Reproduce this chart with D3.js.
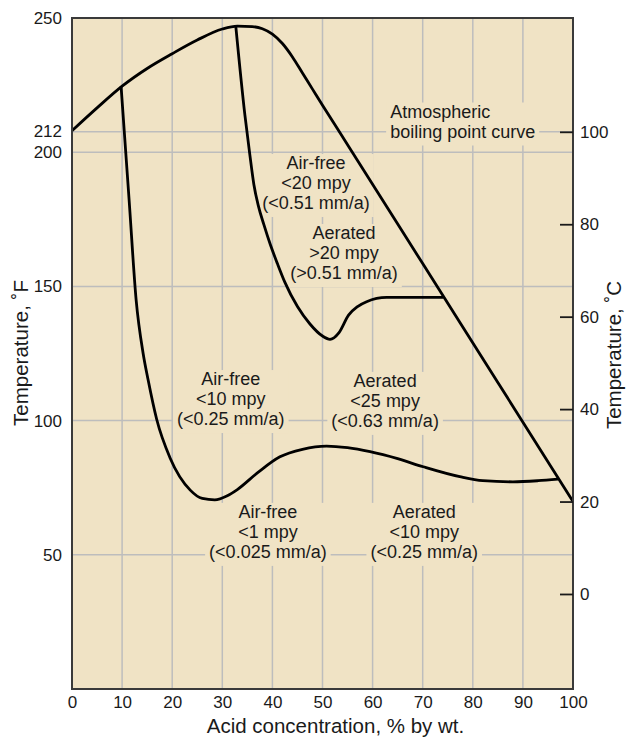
<!DOCTYPE html>
<html>
<head>
<meta charset="utf-8">
<script src="https://cdn.jsdelivr.net/npm/d3@7"></script>
<style>
    body { margin: 0; background: #fff; }
    svg { display: block; font-family: Arial, "Liberation Sans", sans-serif; }
</style>
</head>
<body>
<div id="chart"></div>
<script>
// axis ticks
const xTicks = [0, 10, 20, 30, 40, 50, 60, 70, 80, 90, 100];
const fTicks = [50, 100, 150, 200, 250];
const cTicks = [0, 20, 40, 60, 80, 100];

// atmospheric boiling point curve (acid %, temperature °F)
const boilX = [0, 5, 10, 15, 20, 25, 30, 33, 36, 38, 40, 42, 44, 46, 48, 50, 55, 70, 85, 100];
const boilF = [208, 216.5, 224.6, 231.2, 236.7, 241.8, 245.9, 247.0, 246.8, 246, 244, 240.5, 235.5, 229.5, 223.5, 217.5, 202.8, 158.5, 114.2, 69.9];

// lower iso-corrosion line (10 mpy / 1 mpy border)
const lowX = [9.8, 11.4, 12.8, 14.2, 15.2, 16.9, 19.6, 23.6, 26, 28.5, 31, 33, 37, 41.5, 46, 50.8, 55, 59.5, 65, 70.1, 77.4, 82, 88, 93, 97];
const lowF = [224.4, 182.2, 145, 125, 115.1, 100.5, 86, 74.1, 71, 70.5, 72, 74.3, 80.5, 86.5, 89.3, 90.5, 89.9, 88.4, 85.8, 82.8, 79.1, 77.6, 77.2, 77.6, 78.2];

// upper iso-corrosion line (20 mpy border)
const upX = [32.7, 34.5, 35.5, 36.3, 37.2, 38.3, 39.6, 41, 42.5, 45, 47.5, 50, 51.5, 53.3, 55.2, 57, 58.8, 62.8, 74.1];
const upF = [246.8, 214, 199, 188, 180, 173, 165.5, 158.5, 151.5, 142.5, 136, 131.5, 130.3, 132.8, 139.3, 142.5, 144.3, 145.9, 145.9];

// region labels: acid %, °F at the middle line
const labels = [
    { lines: ["Air-free", "<20 mpy", "(<0.51 mm/a)"], x: 48.7, f: 186.3, anchor: "middle" },
    { lines: ["Aerated", ">20 mpy", "(>0.51 mm/a)"], x: 54.3, f: 160.2, anchor: "middle" },
    { lines: ["Air-free", "<10 mpy", "(<0.25 mm/a)"], x: 31.7, f: 105.8, anchor: "middle" },
    { lines: ["Aerated", "<25 mpy", "(<0.63 mm/a)"], x: 62.5, f: 105.1, anchor: "middle" },
    { lines: ["Air-free", "<1 mpy", "(<0.025 mm/a)"], x: 39.1, f: 56.3, anchor: "middle" },
    { lines: ["Aerated", "<10 mpy", "(<0.25 mm/a)"], x: 70.3, f: 56.3, anchor: "middle" },
    { lines: ["Atmospheric", "boiling point curve"], x: 63.5, f: 209.2, anchor: "start" }
];

const width = 627;
const height = 738;
const bg = "#f0e3c5";
const gridColor = "#bdbdbd";
const ink = "#1a1a1a";
const fontSize = 18;
const lineGap = 20;

const svg = d3.select("#chart")
    .append("svg")
    .attr("width", width)
    .attr("height", height);

const x = d3.scaleLinear().domain([0, 100]).range([72, 573]);
const yF = d3.scaleLinear().domain([0, 250]).range([689, 18]);
// right axis as drawn in the original, a little off the exact conversion
const yC = d3.scaleLinear().domain([0, 100]).range([yF(35.4), yF(207.6)]);

const [x0, x1] = x.range();
const [yB, yT] = yF.range();

svg.append("rect")
    .attr("x", x0).attr("y", yT)
    .attr("width", x1 - x0).attr("height", yB - yT)
    .attr("fill", bg);

// grid
const grid = svg.append("g")
    .attr("stroke", gridColor)
    .attr("stroke-width", 1.5);
grid.selectAll("line.v")
    .data(xTicks.slice(1, -1))
    .join("line")
    .attr("x1", d => x(d)).attr("x2", d => x(d))
    .attr("y1", yT).attr("y2", yB);
grid.selectAll("line.h")
    .data(fTicks.slice(0, -1).map(yF).concat([yC(100)]))
    .join("line")
    .attr("x1", x0).attr("x2", x1)
    .attr("y1", d => d).attr("y2", d => d);

// region labels with a masking box over the grid
labels.forEach(lab => {
    const g = svg.append("g");
    const mid = (lab.lines.length - 1) / 2;
    const t = g.append("text")
        .attr("font-size", fontSize)
        .attr("fill", ink)
        .attr("text-anchor", lab.anchor);
    lab.lines.forEach((s, i) => {
        t.append("tspan")
            .attr("x", x(lab.x))
            .attr("y", yF(lab.f) + (i - mid) * lineGap)
            .text(s);
    });
    const bb = t.node().getBBox();
    g.insert("rect", "text")
        .attr("x", bb.x - 4)
        .attr("y", bb.y + 1)
        .attr("width", bb.width + 8)
        .attr("height", bb.height + 3)
        .attr("fill", bg);
});

// curves
const line = d3.line()
    .x(d => x(d[0]))
    .y(d => yF(d[1]))
    .curve(d3.curveMonotoneX);
const curves = [
    d3.zip(boilX, boilF),
    d3.zip(lowX, lowF),
    d3.zip(upX, upF)
];
svg.append("g")
    .selectAll("path")
    .data(curves)
    .join("path")
    .attr("d", line)
    .attr("fill", "none")
    .attr("stroke", "#000")
    .attr("stroke-width", 2.8)
    .attr("stroke-linejoin", "round");

// frame
svg.append("rect")
    .attr("x", x0).attr("y", yT)
    .attr("width", x1 - x0).attr("height", yB - yT)
    .attr("fill", "none")
    .attr("stroke", "#3a3a3a")
    .attr("stroke-width", 2);

// axes
const xAxis = svg.append("g")
    .attr("transform", `translate(0,${yB})`)
    .call(d3.axisBottom(x).tickValues(xTicks).tickSize(0).tickPadding(7));
const yAxisL = svg.append("g")
    .attr("transform", `translate(${x0},0)`)
    .call(d3.axisLeft(yF).tickValues(fTicks).tickSize(0).tickPadding(10));
const yAxisR = svg.append("g")
    .attr("transform", `translate(${x1},0)`)
    .call(d3.axisRight(yC).tickValues(cTicks).tickSizeInner(-13).tickSizeOuter(0).tickPadding(7));
// 212 °F sits on the 100 °C line
yAxisL.append("g")
    .attr("class", "tick")
    .attr("transform", `translate(0,${yC(100)})`)
    .append("text")
    .attr("x", -10).attr("dy", "0.32em")
    .attr("fill", "currentColor")
    .text("212");

[xAxis, yAxisL, yAxisR].forEach(a => {
    a.select(".domain").remove();
    a.attr("font-size", 17).attr("font-family", null).attr("color", ink);
    a.selectAll(".tick line").attr("stroke-width", 1.8);
});

// axis titles
svg.append("text")
    .attr("x", (x0 + x1) / 2 + 13)
    .attr("y", 733)
    .attr("text-anchor", "middle")
    .attr("font-size", 20.5)
    .attr("fill", ink)
    .text("Acid concentration, % by wt.");
svg.append("text")
    .attr("transform", `translate(28,353) rotate(-90)`)
    .attr("text-anchor", "middle")
    .attr("font-size", 20.5)
    .attr("fill", ink)
    .text("Temperature, ˚F");
svg.append("text")
    .attr("transform", `translate(621,355) rotate(-90)`)
    .attr("text-anchor", "middle")
    .attr("font-size", 20.5)
    .attr("fill", ink)
    .text("Temperature, ˚C");
</script>
</body>
</html>
